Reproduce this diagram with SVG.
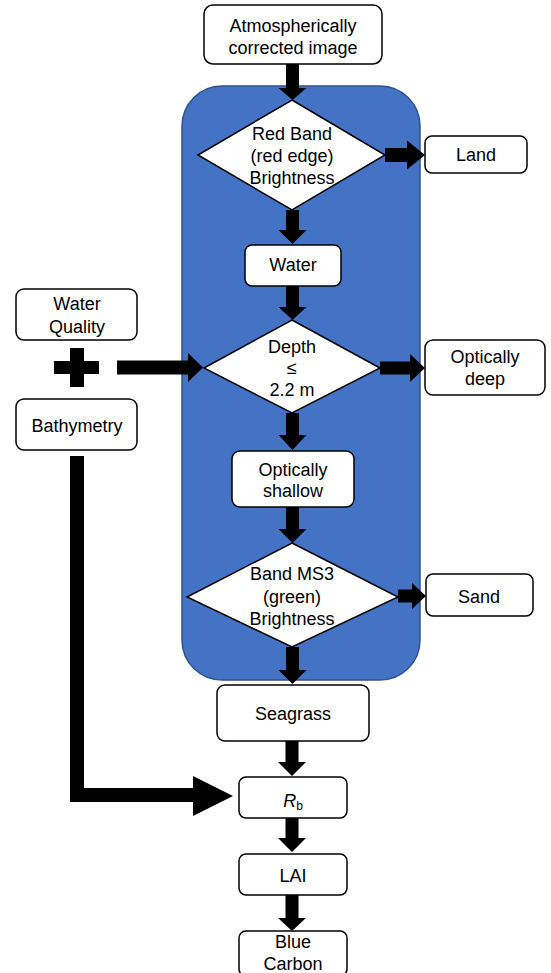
<svg xmlns="http://www.w3.org/2000/svg" width="551" height="973" viewBox="0 0 551 973">
<style>
.box{fill:#fff;stroke:#000;stroke-width:1.5}
.dia{fill:#fff;stroke:#000;stroke-width:1.5}
.t{font-family:"Liberation Sans",Arial,sans-serif;font-size:18px;fill:#000;text-anchor:middle}
.arr{fill:#000;stroke:none}
</style>
<rect x="0" y="0" width="551" height="973" fill="#fff"/>
<g id="container"><rect x="182" y="86" width="238" height="594" rx="40" ry="40" fill="#4472C4" stroke="#2F528F" stroke-width="1.5"/></g>
<g id="connectors">
<path class="arr" d="M286,64H299V88H306.5L292.5,100L278.5,88H286Z"/>
<path class="arr" d="M286,210H299V230H306.5L292.5,244L278.5,230H286Z"/>
<path class="arr" d="M286,286H299V307H306.5L292.5,320L278.5,307H286Z"/>
<path class="arr" d="M286,413H299V435H306.5L292.5,450L278.5,435H286Z"/>
<path class="arr" d="M286,507H299V529H306.5L292.5,543L278.5,529H286Z"/>
<path class="arr" d="M286,647H299V670H306.5L292.5,684L278.5,670H286Z"/>
<path class="arr" d="M285.5,741H298.5V762H306L292,776L278,762H285.5Z"/>
<path class="arr" d="M285.5,818H298.5V838H306L292,852L278,838H285.5Z"/>
<path class="arr" d="M285.5,895H298.5V918H306L292,931L278,918H285.5Z"/>
<path class="arr" d="M385,148H407V140.5L425,155L407,169.5V162H385Z"/>
<path class="arr" d="M380,361.5H410V354L425,368L410,382V374.5H380Z"/>
<path class="arr" d="M398,589.5H412V583L426,596L412,609V602.5H398Z"/>
<path class="arr" d="M117,360.5H188V353L203,367.5L188,382V374.5H117Z"/>
<path class="arr" d="M70,456H84V788H193V776L233,796L193,816V802H70Z"/>
</g>
<g id="plus"><path class="arr" d="M70,348H84V361H99V374H84V387H70V374H54V361H70Z"/></g>
<g id="atmos"><rect class="box" x="204" y="5" width="178" height="59" rx="9"/><text class="t" x="293" y="32">Atmospherically</text><text class="t" x="293" y="54">corrected image</text></g>
<g id="redband"><polygon class="dia" points="292,100 385,155 292,210 198,155"/><text class="t" x="292" y="140">Red Band</text><text class="t" x="292" y="162">(red edge)</text><text class="t" x="292" y="184">Brightness</text></g>
<g id="land"><rect class="box" x="425" y="136" width="102" height="37" rx="7"/><text class="t" x="476" y="161">Land</text></g>
<g id="water"><rect class="box" x="245" y="245" width="96" height="41" rx="7"/><text class="t" x="293" y="271">Water</text></g>
<g id="depth"><polygon class="dia" points="292,320 380,368 292,413 204,368"/><text class="t" x="292" y="353">Depth</text><text class="t" x="292" y="374">≤</text><text class="t" x="292" y="396">2.2 m</text></g>
<g id="deep"><rect class="box" x="425" y="340" width="120" height="55" rx="8"/><text class="t" x="485" y="363">Optically</text><text class="t" x="485" y="385">deep</text></g>
<g id="shallow"><rect class="box" x="232" y="451" width="122" height="56" rx="8"/><text class="t" x="293" y="476">Optically</text><text class="t" x="293" y="497">shallow</text></g>
<g id="ms3"><polygon class="dia" points="292,543 398,597 292,647 187,597"/><text class="t" x="292" y="580">Band MS3</text><text class="t" x="292" y="603">(green)</text><text class="t" x="292" y="625">Brightness</text></g>
<g id="sand"><rect class="box" x="426" y="574" width="107" height="42" rx="7"/><text class="t" x="479" y="603">Sand</text></g>
<g id="seagrass"><rect class="box" x="217" y="685" width="152" height="56" rx="8"/><text class="t" x="293" y="720">Seagrass</text></g>
<g id="rb"><rect class="box" x="239" y="777" width="108" height="41" rx="7"/><text class="t" x="293" y="807"><tspan font-style="italic">R</tspan><tspan font-size="12" dy="3">b</tspan></text></g>
<g id="lai"><rect class="box" x="239" y="854" width="108" height="41" rx="7"/><text class="t" x="293" y="882">LAI</text></g>
<g id="bluecarbon"><rect class="box" x="239" y="931" width="108" height="45" rx="7"/><text class="t" x="293" y="948">Blue</text><text class="t" x="293" y="970">Carbon</text></g>
<g id="wq"><rect class="box" x="16" y="289" width="121" height="51" rx="8"/><text class="t" x="77" y="310">Water</text><text class="t" x="77" y="333">Quality</text></g>
<g id="bathy"><rect class="box" x="16" y="399" width="121" height="51" rx="8"/><text class="t" x="77" y="432">Bathymetry</text></g>
</svg>
